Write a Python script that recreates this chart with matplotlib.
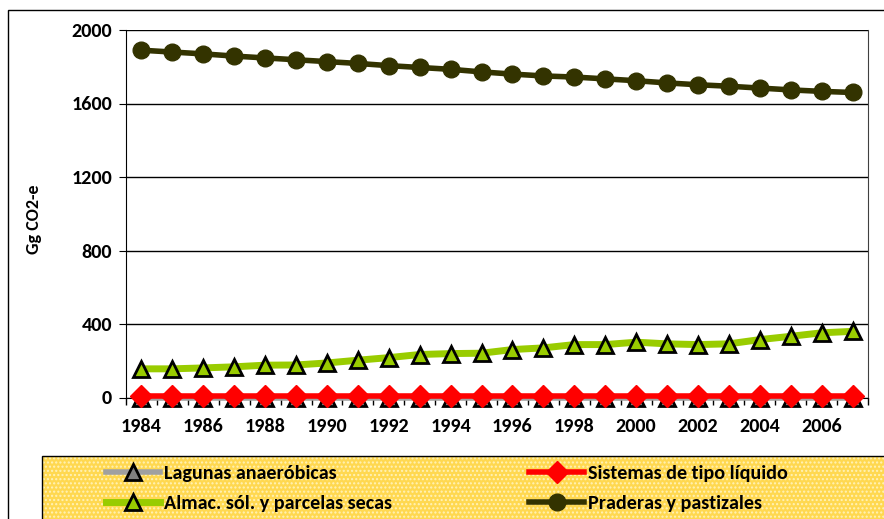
import numpy as np
import matplotlib.pyplot as plt
from matplotlib.patches import Rectangle

plt.rcParams['font.family'] = ['Carlito', 'DejaVu Sans']
plt.rcParams['font.weight'] = 'bold'

years = list(range(1984, 2008))
tick_labels = [str(y) for y in years[::2]]

lagunas = [0] * 24
sistemas = [10] * 24
almac = [156, 156, 161, 167, 176, 177, 188, 203, 217, 234, 239, 241,
         261, 270, 288, 288, 301, 292, 288, 292, 315, 333, 352, 360]
praderas = [1890, 1880, 1870, 1858, 1848, 1838, 1828, 1818, 1806, 1796, 1786, 1772,
            1760, 1750, 1744, 1734, 1724, 1712, 1702, 1694, 1684, 1674, 1666, 1660]

fig = plt.figure(figsize=(8.84, 5.19), dpi=100)
ax = fig.add_axes([126/884, 1 - 397.5/519, (868-126)/884, (397.5-30)/519])

x = np.arange(len(years))
l1, = ax.plot(x, lagunas, color='#A0A0A0', lw=4, marker='^', ms=12,
              mfc='#808080', mec='black', mew=2, zorder=3, clip_on=False)
l2, = ax.plot(x, sistemas, color='#FF0000', lw=4, marker='D', ms=11,
              mfc='#FF0000', mec='#FF0000', zorder=4, clip_on=False)
l3, = ax.plot(x, almac, color='#99CC00', lw=5, marker='^', ms=12,
              mfc='#99CC00', mec='black', mew=2, zorder=3, clip_on=False)
l4, = ax.plot(x, praderas, color='#333300', lw=4, marker='o', ms=12,
              mfc='#333300', mec='#333300', zorder=3, clip_on=False)

ax.set_xlim(-0.5, 23.5)
ax.set_ylim(0, 2000)
ax.set_yticks([0, 400, 800, 1200, 1600, 2000])
ax.set_xticks(x[::2])
ax.set_xticklabels(tick_labels)
ax.set_xticks(np.arange(-0.5, 24, 1), minor=True)
ax.tick_params(axis='x', which='major', length=0, pad=15, labelsize=14.5)
ax.tick_params(axis='x', which='minor', length=5, direction='out', width=1)
ax.tick_params(axis='y', length=5, direction='out', labelsize=14.5, pad=5)
ax.yaxis.grid(True, color='black', lw=1)
ax.set_axisbelow(True)
ax.spines['top'].set_visible(False)
ax.spines['right'].set_color('#404040')
fig.text(34/884, 1 - 219/519, 'Gg CO2-e', rotation=90, ha='center', va='center',
         fontsize=13, fontweight='bold')

# marco exterior y fondo de la leyenda
fig.patches.append(Rectangle((8/884, -0.1), 1.2, 1.1 - 10/519, transform=fig.transFigure,
                             fill=False, ec='black', lw=1, zorder=0))
fig.patches.append(Rectangle((42/884, -0.1), 1.2, 0.1 + (519-456)/519, transform=fig.transFigure,
                             fc='#FFD850', ec='#FFF2B8', hatch='....', lw=0, zorder=0))
fig.patches.append(Rectangle((42/884, -0.1), 1.2, 0.1 + (519-456)/519, transform=fig.transFigure,
                             fill=False, ec='black', lw=1, zorder=1))

fig.legend([l1, l3, l2, l4],
           ['Lagunas anaeróbicas', 'Almac. sól. y parcelas secas',
            'Sistemas de tipo líquido', 'Praderas y pastizales'],
           ncol=2, loc='upper left', bbox_to_anchor=(106/884, 1 - 465/519),
           frameon=False, handlelength=2.7, handletextpad=0.2,
           columnspacing=6.8, labelspacing=0.65, borderpad=0, borderaxespad=0,
           prop={'weight': 'bold', 'size': 14.5})

fig.savefig('out.png', dpi=100)
